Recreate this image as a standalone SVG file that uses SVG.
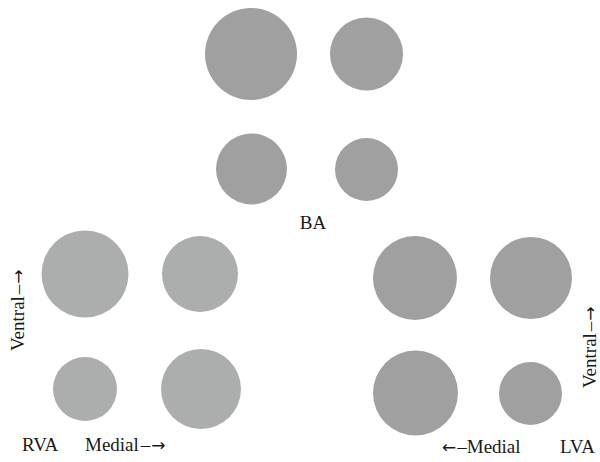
<svg xmlns="http://www.w3.org/2000/svg" width="600" height="462" viewBox="0 0 600 462">
<style>
.d{fill:#a0a0a0}
.l{fill:#acaeae}
text{font-family:"Liberation Serif","Times New Roman",serif;font-size:19px;fill:#1a1a1a}
.a{font-family:"DejaVu Sans",sans-serif;font-size:17px}
</style>
<rect width="600" height="462" fill="#fff"/>
<g id="BA">
<circle class="d" cx="251" cy="54" r="46"/>
<circle class="d" cx="366.5" cy="54" r="36.5"/>
<circle class="d" cx="251.5" cy="169" r="35.5"/>
<circle class="d" cx="366.5" cy="169.5" r="31.5"/>
<text x="313" y="229" text-anchor="middle">BA</text>
</g>
<g id="RVA">
<circle class="l" cx="85" cy="274" r="43.5"/>
<circle class="l" cx="200" cy="274" r="38"/>
<circle class="l" cx="85" cy="389" r="32"/>
<circle class="l" cx="201" cy="389" r="40"/>
<text x="22" y="451">RVA</text>
<text x="85" y="451">Medial<tspan dx="2">–</tspan><tspan class="a" dx="1">→</tspan></text>
<text transform="translate(24,351) rotate(-90)">Ventral<tspan dx="2">–</tspan><tspan class="a" dx="1">→</tspan></text>
</g>
<g id="LVA">
<circle class="d" cx="415" cy="278" r="42"/>
<circle class="d" cx="531" cy="278" r="41"/>
<circle class="d" cx="415.5" cy="393" r="42.5"/>
<circle class="d" cx="530.5" cy="393.5" r="31.5"/>
<text x="442" y="453"><tspan class="a">←</tspan><tspan dx="1">–</tspan>Medial</text>
<text x="560" y="453">LVA</text>
<text transform="translate(596,388) rotate(-90)">Ventral<tspan dx="2">–</tspan><tspan class="a" dx="1">→</tspan></text>
</g>
<g id="connectors"></g>
</svg>
